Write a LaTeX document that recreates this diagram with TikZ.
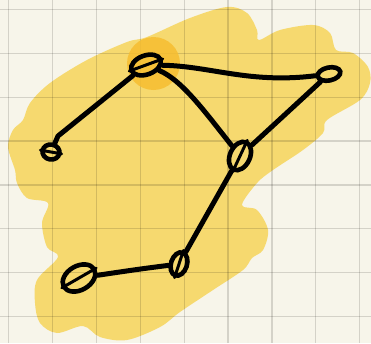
\documentclass[tikz,border=0pt]{standalone}
\usetikzlibrary{shapes.geometric}
\definecolor{paper}{HTML}{F7F5EA}
\definecolor{blob}{HTML}{F6D96F}
\definecolor{hot}{HTML}{F6BD30}
\tikzset{
  gridline/.style={draw=black, opacity=0.14, line width=1.2pt},
  vertex/.style={ellipse, draw=black, line width=4.6pt, inner sep=0pt},
  bar/.style={draw=black, line width=3pt, line cap=round},
  link/.style={draw=black, line width=5pt, line cap=round, line join=round},
}
\begin{document}
\begin{tikzpicture}[x=1pt,y=-1pt]
\useasboundingbox (0,0) rectangle (371,343);
\fill[paper] (0,0) rectangle (371,343);
% highlighter blob
\fill[blob] plot[smooth cycle, tension=0.55] coordinates {
 (190,18) (227,7) (247,13) (257,30) (259,40) (280,30) (313,25) (330,33)
 (336,50) (353,53) (368,67) (370,83) (360,100) (327,120) (323,133) (303,150)
 (273,170) (257,183) (242,205) (257,210) (268,230) (263,250) (252,258) (243,270)
 (213,290) (180,312) (160,327) (127,340) (100,337) (83,326) (57,333) (40,323)
 (35,303) (37,280) (58,257) (47,247) (42,223) (48,203) (27,198) (17,183)
 (15,170) (8,147) (13,130) (23,120) (30,103) (50,83) (87,60) (127,42) (147,37)};
% grid
\foreach \k in {0,...,8} \draw[gridline] ({8.5+43.9*\k},0) -- ({8.5+43.9*\k},343);
\foreach \k in {0,...,7} \draw[gridline] (0,{9.3+43.9*\k}) -- (371,{9.3+43.9*\k});
% focus circle
\fill[hot, opacity=0.85] (153.5,63.5) circle (26.5pt);
% nodes
\node[vertex, minimum width=31pt, minimum height=19pt, rotate=20] (a) at (146,65) {};
\node[vertex, minimum width=17pt, minimum height=15pt, rotate=-10] (b) at (51,152) {};
\node[vertex, minimum width=23pt, minimum height=13pt, rotate=12] (c) at (329,74) {};
\node[vertex, minimum width=30pt, minimum height=20pt, rotate=65] (d) at (240,156) {};
\node[vertex, minimum width=24pt, minimum height=16pt, rotate=72] (e) at (179,264) {};
\node[vertex, minimum width=35pt, minimum height=24pt, rotate=30] (f) at (79,278) {};
% inner scribbles
\draw[bar] (a.west) -- (a.east);
\draw[bar] (d.west) -- (d.east);
\draw[bar] (e.west) -- (e.east);
\draw[bar] (f.west) -- (f.east);
\draw[bar] (b.west) -- (b.east);
% connectors
\coordinate (ab) at (58,136);
\draw[link] (a) -- (ab) -- (b);
\draw[link] (a) .. controls (210,66) and (250,84) .. (c);
\draw[link] (a) .. controls (182,80) and (205,112) .. (d);
\draw[link] (c) -- (d);
\draw[link] (d) -- (e);
\draw[link] (e) .. controls (140,269) .. (f);
\end{tikzpicture}
\end{document}
